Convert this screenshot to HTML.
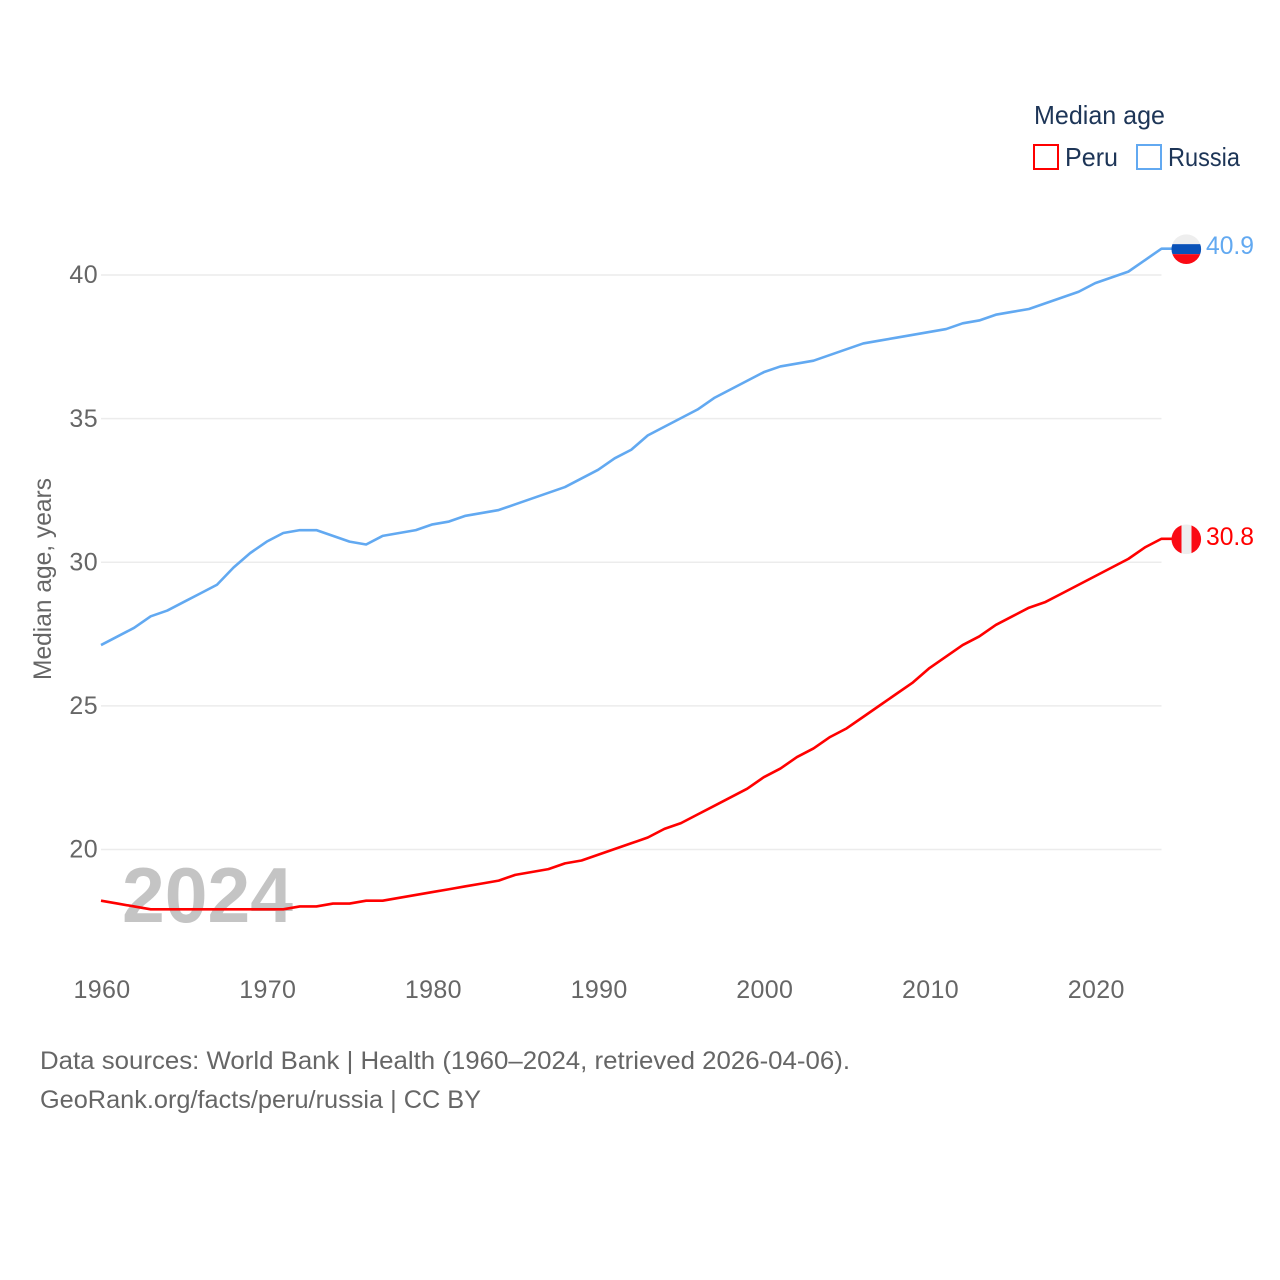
<!DOCTYPE html>
<html lang="en">
<head>
<meta charset="utf-8">
<title>Median age: Peru and Russia</title>
<style>
  html, body { margin: 0; padding: 0; background: #fff; }
  svg { display: block; font-family: "Liberation Sans", sans-serif; }
</style>
</head>
<body>
<svg id="chart" xmlns="http://www.w3.org/2000/svg" width="1280" height="1280" viewBox="0 0 1280 1280">
  <rect x="0" y="0" width="1280" height="1280" fill="#ffffff"/>
  <defs>
    <clipPath id="flag-clip-russia"><circle id="clip-russia" cx="1186.3" cy="249" r="14.8"/></clipPath>
    <clipPath id="flag-clip-peru"><circle id="clip-peru" cx="1186.3" cy="539" r="14.8"/></clipPath>
  </defs>
  <g id="grid"></g>
  <g id="y-ticks"></g>
  <g id="x-ticks"></g>
  <text transform="translate(51,579) rotate(-90)" text-anchor="middle" font-size="25" fill="#666666" textLength="202" lengthAdjust="spacingAndGlyphs">Median age, years</text>
  <text x="122" y="922" font-size="78" font-weight="bold" fill="#c4c4c4" textLength="171" lengthAdjust="spacingAndGlyphs">2024</text>
  <g id="series"></g>
  <g id="end-markers"></g>
  <g>
    <text x="1034" y="124" font-size="26" fill="#1d3557" textLength="131" lengthAdjust="spacingAndGlyphs">Median age</text>
    <g>
      <rect x="1034" y="145" width="24" height="24" fill="#ffffff" stroke="#ff0000" stroke-width="2"/>
      <text x="1065" y="166" font-size="26" fill="#1d3557" textLength="53" lengthAdjust="spacingAndGlyphs">Peru</text>
    </g>
    <g>
      <rect x="1137" y="145" width="24" height="24" fill="#ffffff" stroke="#62a9f1" stroke-width="2"/>
      <text x="1168" y="166" font-size="26" fill="#1d3557" textLength="72" lengthAdjust="spacingAndGlyphs">Russia</text>
    </g>
  </g>
  <text x="40" y="1069" font-size="25" fill="#666666" textLength="810" lengthAdjust="spacingAndGlyphs">Data sources: World Bank | Health (1960–2024, retrieved 2026-04-06).</text>
  <text x="40" y="1108" font-size="25" fill="#666666" textLength="441" lengthAdjust="spacingAndGlyphs">GeoRank.org/facts/peru/russia | CC BY</text>
</svg>
<script>
const years = [1960,1961,1962,1963,1964,1965,1966,1967,1968,1969,1970,1971,1972,1973,1974,1975,1976,1977,1978,1979,1980,1981,1982,1983,1984,1985,1986,1987,1988,1989,1990,1991,1992,1993,1994,1995,1996,1997,1998,1999,2000,2001,2002,2003,2004,2005,2006,2007,2008,2009,2010,2011,2012,2013,2014,2015,2016,2017,2018,2019,2020,2021,2022,2023,2024];
const peruValues = [18.2,18.1,18.0,17.9,17.9,17.9,17.9,17.9,17.9,17.9,17.9,17.9,18.0,18.0,18.1,18.1,18.2,18.2,18.3,18.4,18.5,18.6,18.7,18.8,18.9,19.1,19.2,19.3,19.5,19.6,19.8,20.0,20.2,20.4,20.7,20.9,21.2,21.5,21.8,22.1,22.5,22.8,23.2,23.5,23.9,24.2,24.6,25.0,25.4,25.8,26.3,26.7,27.1,27.4,27.8,28.1,28.4,28.6,28.9,29.2,29.5,29.8,30.1,30.5,30.8];
const russiaValues = [27.1,27.4,27.7,28.1,28.3,28.6,28.9,29.2,29.8,30.3,30.7,31.0,31.1,31.1,30.9,30.7,30.6,30.9,31.0,31.1,31.3,31.4,31.6,31.7,31.8,32.0,32.2,32.4,32.6,32.9,33.2,33.6,33.9,34.4,34.7,35.0,35.3,35.7,36.0,36.3,36.6,36.8,36.9,37.0,37.2,37.4,37.6,37.7,37.8,37.9,38.0,38.1,38.3,38.4,38.6,38.7,38.8,39.0,39.2,39.4,39.7,39.9,40.1,40.5,40.9];
const yTickValues = [20,25,30,35,40];
const xTickValues = [1960,1970,1980,1990,2000,2010,2020];

const NS = 'http://www.w3.org/2000/svg';
const xScale = function (year) { return 101 + (year - 1960) * (1060.5 / 64); };
const yScale = function (value) { return 275 + (40 - value) * (574.5 / 20); };
const lineOffset = -0.5;

function make(tag, attrs, parent, content) {
  const el = document.createElementNS(NS, tag);
  Object.keys(attrs).forEach(function (k) { el.setAttribute(k, attrs[k]); });
  if (content !== undefined) el.textContent = content;
  parent.appendChild(el);
  return el;
}

const grid = document.getElementById('grid');
const yTicksGroup = document.getElementById('y-ticks');
const xTicksGroup = document.getElementById('x-ticks');
const seriesGroup = document.getElementById('series');
const markers = document.getElementById('end-markers');

yTickValues.forEach(function (v) {
  const line = make('line', { x1: 101, x2: 1161.5, y1: yScale(v), y2: yScale(v), stroke: '#ececec', 'stroke-width': 1.5 }, grid);
  
  
  const label = make('text', { x: 98, y: yScale(v) + 8.2, 'text-anchor': 'end', 'font-size': 25, fill: '#666666', 'letter-spacing': 0.4 }, yTicksGroup, String(v));
  
  
});

xTickValues.forEach(function (v) {
  const label = make('text', { x: xScale(v) + 1, y: 998, 'text-anchor': 'middle', 'font-size': 25, fill: '#666666', 'letter-spacing': 0.35 }, xTicksGroup, String(v));
  
  
});

function drawLine(values, color) {
  let d = '';
  values.forEach(function (v, i) {
    d += (i === 0 ? 'M' : 'L') + xScale(years[i]).toFixed(2) + ' ' + (yScale(v) + lineOffset).toFixed(2);
  });
  d += 'H1172';
  return make('path', { d: d, fill: 'none', stroke: color, 'stroke-width': 2.6, 'stroke-linejoin': 'round' }, seriesGroup);
}

const russiaLine = drawLine(russiaValues, '#62a9f1');


const peruLine = drawLine(peruValues, '#ff0000');



/* Russia end marker */
const russiaEnd = russiaValues[russiaValues.length - 1];
const ry = yScale(russiaEnd);
document.getElementById('clip-russia').setAttribute('cy', ry);
const russiaFlag = make('g', { 'clip-path': 'url(#flag-clip-russia)' }, markers);


make('rect', { x: 1171, y: ry - 15, width: 31, height: 10, fill: '#eeeeee' }, russiaFlag);
make('rect', { x: 1171, y: ry - 5, width: 31, height: 10, fill: '#0a52b8' }, russiaFlag);
make('rect', { x: 1171, y: ry + 5, width: 31, height: 10, fill: '#fa0a14' }, russiaFlag);
const russiaValueLabel = make('text', { x: 1206, y: ry + 5, 'font-size': 25, fill: '#62a9f1', textLength: 48, lengthAdjust: 'spacingAndGlyphs' }, markers, russiaEnd.toFixed(1));



/* Peru end marker */
const peruEnd = peruValues[peruValues.length - 1];
const py = yScale(peruEnd);
document.getElementById('clip-peru').setAttribute('cy', py);
const peruFlag = make('g', { 'clip-path': 'url(#flag-clip-peru)' }, markers);


make('rect', { x: 1171, y: py - 15, width: 10.5, height: 30, fill: '#fa0a14' }, peruFlag);
make('rect', { x: 1181.5, y: py - 15, width: 10, height: 30, fill: '#eeeeee' }, peruFlag);
make('rect', { x: 1191.5, y: py - 15, width: 10, height: 30, fill: '#fa0a14' }, peruFlag);
const peruValueLabel = make('text', { x: 1206, y: py + 5.5, 'font-size': 25, fill: '#ff0000', textLength: 48, lengthAdjust: 'spacingAndGlyphs' }, markers, peruEnd.toFixed(1));


</script>
</body>
</html>
